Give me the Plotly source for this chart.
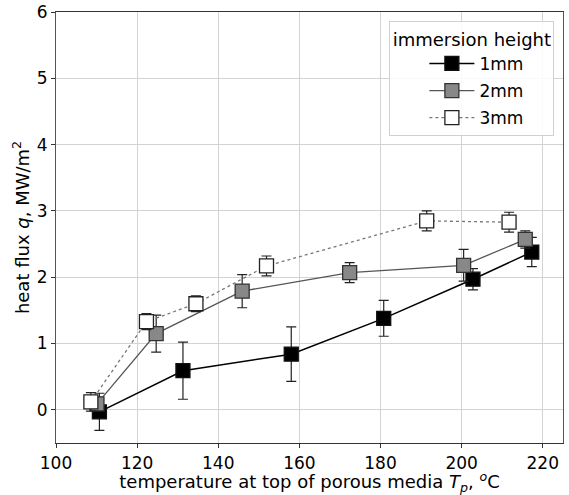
import plotly.graph_objects as go

x_1mm = [110.7, 131.3, 158.0, 180.8, 202.8, 217.3]
q_1mm = [-0.03, 0.59, 0.84, 1.38, 1.97, 2.38]
e_1mm = [0.28, 0.43, 0.41, 0.27, 0.16, 0.22]

x_2mm = [110.1, 124.7, 145.9, 172.4, 200.5, 215.7]
q_2mm = [0.09, 1.15, 1.79, 2.07, 2.18, 2.57]
e_2mm = [0.10, 0.28, 0.25, 0.15, 0.24, 0.13]

x_3mm = [108.6, 122.3, 134.5, 151.9, 191.4, 211.7]
q_3mm = [0.12, 1.33, 1.60, 2.17, 2.85, 2.83]
e_3mm = [0.14, 0.12, 0.12, 0.15, 0.15, 0.15]

x_ticks = [100, 120, 140, 160, 180, 200, 220]
y_ticks = [0, 1, 2, 3, 4, 5, 6]

FONT = "DejaVu Sans"

fig = go.Figure()

series = [
    ("1mm", x_1mm, q_1mm, e_1mm, "black", "black", "solid", 1.5, "#111"),
    ("2mm", x_2mm, q_2mm, e_2mm, "#888888", "#555555", "solid", 1.3, "#333"),
    ("3mm", x_3mm, q_3mm, e_3mm, "white", "#777777", "dot", 1.3, "#222"),
]
for name, xs, ys, es, fill, lcol, dash, lw, edge in series:
    fig.add_trace(go.Scatter(
        x=xs, y=ys, name=name, mode="lines+markers", legendgroup=name,
        line=dict(color=lcol, width=lw, dash=dash),
        marker=dict(symbol="square", size=14, color=fill,
                    line=dict(color=edge, width=1.3)),
        error_y=dict(type="data", array=es, visible=True,
                     color="#222", thickness=1.2, width=5),
    ))

fig.update_layout(
    width=569, height=495,
    margin=dict(l=55.7, r=6.3, t=11.7, b=52),
    paper_bgcolor="white", plot_bgcolor="white",
    font=dict(family=FONT, size=17, color="black"),
    showlegend=True,
    legend=dict(
        title=dict(text="immersion height", font=dict(size=18, family=FONT), side="top center"),
        x=0.983, y=0.978, xanchor="right", yanchor="top",
        bgcolor="rgba(255,255,255,0.85)", bordercolor="#d0d0d0", borderwidth=1,
        font=dict(size=17, family=FONT),
        itemwidth=45, indentation=34, tracegroupgap=2, traceorder="grouped",
    ),
    xaxis=dict(
        range=[100, 225], tickvals=x_ticks, ticktext=[str(v) for v in x_ticks],
        showgrid=True, gridcolor="#d3d3d3", gridwidth=1,
        showline=True, linecolor="#333", linewidth=1.2, mirror=True,
        ticks="outside", ticklen=4, tickcolor="#333", zeroline=False,
        automargin=False,
        title=dict(text="temperature at top of porous media <i>T<sub>p</sub></i>, <i><sup>o</sup></i>C",
                   font=dict(size=18, family=FONT), standoff=2),
        tickfont=dict(size=17, family=FONT),
    ),
    yaxis=dict(
        range=[-0.5, 6], tickvals=y_ticks, ticktext=[str(v) for v in y_ticks],
        showgrid=True, gridcolor="#d3d3d3", gridwidth=1,
        showline=True, linecolor="#555", linewidth=1.2, mirror=True,
        ticks="outside", ticklen=4, tickcolor="#333", zeroline=False,
        automargin=False,
        title=dict(text="heat flux <i>q</i>, MW/m<sup>2</sup>",
                   font=dict(size=18, family=FONT), standoff=2),
        tickfont=dict(size=17, family=FONT),
    ),
)

fig.write_html("out.html", config={"displayModeBar": False},
               post_script="document.body.style.margin='0';")
